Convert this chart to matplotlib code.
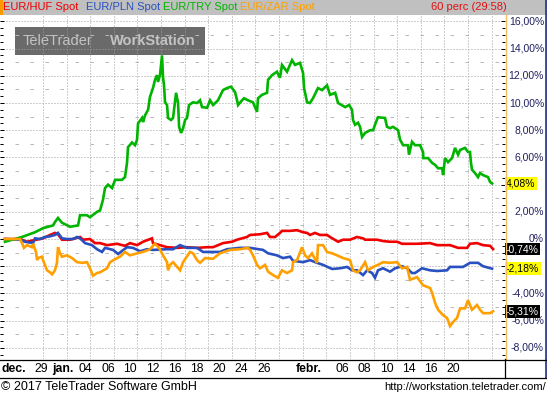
import matplotlib.pyplot as plt
import matplotlib.transforms as mtransforms
from matplotlib.lines import Line2D
from matplotlib.patches import Rectangle
import numpy as np

W, H = 547, 397
plt.rcParams['font.family'] = ['Liberation Sans', 'DejaVu Sans']

# x = trading day index (0 = dec. 27), y = change in %
huf_x = [-1.22, 0.13, 0.75, 1.29, 2.19, 2.82, 3.26, 3.53, 3.89, 4.61, 5.06, 5.51, 5.78, 6.40, 6.85,
         7.30, 7.93, 8.83, 9.54, 9.99, 10.62, 11.16, 11.96, 12.05, 12.68, 13.31, 14.22, 15.10, 16.00,
         16.90, 17.44, 18.33, 19.14, 19.59, 20.48, 20.75, 21.65, 22.28, 22.55, 23.00, 23.44, 23.62,
         24.34, 24.97, 25.51, 25.87, 26.13, 26.58, 27.03, 27.66, 27.93, 28.65, 29.10, 29.72, 30.35,
         30.89, 31.07, 32.14, 32.68, 33.31, 33.94, 34.39, 35.73, 36.90, 37.53, 38.69, 39.41, 40.22,
         40.48, 41.11, 41.65, 42.28, 42.55]
huf_y = [0.0, 0.0, -0.2, -0.1, 0.05, 0.3, 0.45, 0.35, -0.05, -0.05, 0.05, 0.15, -0.05, 0.0, -0.3,
         -0.3, -0.45, -0.35, -0.5, -0.3, -0.45, -0.2, 0.05, -0.3, -0.45, -0.6, -0.65, -0.6, -0.65,
         -0.6, -0.6, -0.3, -0.2, -0.05, 0.15, 0.3, 0.35, 0.45, 0.15, 0.15, 0.45, 0.6, 0.6, 0.65, 0.5,
         0.45, 0.3, 0.45, 0.3, 0.3, 0.15, -0.2, -0.05, -0.05, 0.15, 0.05, -0.05, -0.05, -0.15, -0.2,
         -0.2, -0.35, -0.35, -0.3, -0.45, -0.45, -0.65, -0.65, -0.35, -0.3, -0.45, -0.5, -0.74]

pln_x = [-1.22, 0.13, 0.57, 1.29, 1.47, 1.92, 2.37, 2.82, 3.26, 3.53, 3.89, 4.34, 4.88, 5.24, 5.51,
         5.96, 6.58, 7.03, 7.48, 7.75, 8.47, 8.92, 9.72, 10.26, 10.89, 11.52, 12.05, 13.31, 13.85,
         14.48, 15.10, 16.00, 16.54, 18.06, 18.69, 19.86, 20.75, 21.92, 22.37, 23.17, 23.71, 24.34,
         24.61, 25.51, 26.13, 26.76, 27.30, 28.11, 28.83, 29.46, 29.90, 30.35, 30.89, 31.25, 31.70,
         31.96, 32.23, 32.68, 33.31, 33.76, 34.39, 34.84, 35.28, 35.55, 36.18, 36.90, 37.53, 38.42,
         38.69, 39.86, 40.48, 41.20, 41.65, 42.46]
pln_y = [0.0, -0.05, -0.2, -0.3, 0.05, 0.0, 0.15, 0.2, 0.3, 0.45, 0.05, 0.0, 0.0, 0.15, 0.05, -0.3,
         -0.45, -0.75, -0.95, -0.65, -0.8, -1.1, -0.6, -0.65, -0.9, -0.75, -0.8, -0.75, -0.75, -0.45,
         -0.65, -0.65, -0.95, -0.95, -0.75, -0.65, -0.65, -0.8, -1.05, -1.2, -1.4, -1.3, -1.6, -1.7,
         -1.55, -1.75, -1.9, -2.2, -2.15, -2.05, -2.3, -2.3, -2.65, -2.3, -2.5, -2.85, -2.3, -2.15,
         -2.4, -2.15, -2.0, -2.15, -2.5, -2.5, -2.15, -2.3, -2.35, -2.3, -2.05, -2.05, -1.75, -1.75,
         -2.0, -2.18]

try_x = [-1.22, 0.30, 1.29, 1.47, 2.19, 3.09, 3.26, 3.53, 3.89, 4.61,
         5.33, 5.51, 6.13, 6.40, 7.03, 7.30, 7.57, 7.75, 8.02, 8.38,
         8.65, 9.27, 9.54, 9.72, 9.81, 10.17, 10.44, 10.62, 10.71, 11.07,
         11.16, 11.34, 11.61, 11.78, 12.05, 12.23, 12.41, 12.50, 12.68, 12.86,
         12.95, 13.04, 13.13, 13.31, 13.40, 13.67, 13.85, 14.12, 14.30, 14.39,
         14.57, 14.75, 14.93, 15.10, 15.28, 15.64, 16.00, 16.27, 16.45, 16.90,
         17.17, 17.44, 17.88, 18.33, 18.69, 19.05, 19.41, 19.59, 19.68, 20.04,
         20.22, 20.57, 21.02, 21.38, 21.47, 21.83, 22.28, 22.37, 22.73, 23.17,
         23.44, 23.62, 24.07, 24.52, 24.79, 25.24, 25.51, 25.60, 25.87, 26.13,
         26.40, 26.85, 27.21, 27.66, 27.93, 28.39, 28.65, 29.28, 29.64, 29.90,
         29.99, 30.17, 30.44, 30.62, 30.80, 31.07, 31.52, 31.79, 32.05, 32.23,
         32.86, 33.04, 33.31, 33.58, 34.03, 34.21, 34.48, 34.92, 35.01, 35.28,
         35.55, 36.00, 36.27, 36.30, 36.72, 37.08, 37.35, 37.62, 37.98, 38.07,
         38.24, 38.51, 38.87, 39.14, 39.41, 39.59, 40.04, 40.30, 40.48, 40.57,
         40.66, 40.93, 41.20, 41.38, 41.65, 42.10, 42.28, 42.46]
try_y = [-0.2, 0.15, 0.45, 0.5, 0.8, 1.0, 1.25, 1.55, 1.2, 0.9,
         1.0, 1.75, 1.75, 1.6, 2.0, 2.1, 2.9, 3.75, 4.0, 3.75,
         4.35, 4.35, 4.55, 5.6, 6.75, 7.1, 6.9, 7.3, 8.5, 8.9,
         8.6, 9.1, 9.5, 10.45, 11.1, 11.7, 12.05, 11.55, 12.05, 13.5,
         11.9, 11.3, 10.05, 9.85, 8.9, 8.75, 8.9, 10.75, 10.0, 8.25,
         7.8, 8.15, 8.75, 8.9, 9.85, 10.05, 10.0, 10.2, 9.7, 9.65,
         10.2, 9.85, 10.2, 10.95, 11.1, 11.2, 10.8, 10.2, 9.85, 10.2,
         10.35, 10.2, 10.05, 9.35, 10.35, 10.6, 10.75, 11.7, 12.05, 12.3,
         11.85, 12.8, 12.3, 13.15, 12.8, 12.95, 12.2, 11.1, 10.05, 10.0,
         10.35, 11.1, 10.95, 11.3, 10.6, 10.75, 10.0, 9.7, 9.85, 9.5,
         8.75, 8.4, 8.55, 8.25, 7.5, 7.8, 8.0, 8.0, 8.6, 8.95,
         8.9, 8.25, 8.15, 8.25, 8.0, 7.3, 6.9, 6.9, 6.2, 7.15,
         6.9, 6.9, 6.4, 5.95, 5.95, 5.6, 5.45, 5.2, 5.2, 4.7,
         5.95, 5.65, 5.95, 6.7, 6.2, 6.55, 6.7, 6.4, 6.4, 5.6,
         5.1, 4.85, 4.55, 4.85, 4.7, 4.55, 4.2, 4.08]

zar_x = [-1.22, 0.13, 0.30, 0.48, 0.75, 1.20, 1.29, 1.56, 1.65, 1.74,
         2.10, 2.19, 2.55, 2.82, 3.00, 3.26, 3.44, 3.53, 3.71, 3.89,
         4.34, 4.79, 5.24, 5.69, 6.13, 6.40, 6.67, 7.03, 7.30, 7.93,
         8.20, 8.83, 9.09, 9.54, 9.99, 10.62, 11.16, 11.78, 12.23, 12.59,
         12.95, 13.31, 13.40, 13.58, 13.85, 14.48, 14.75, 15.37, 15.64, 16.00,
         16.27, 16.72, 17.44, 18.06, 18.96, 19.86, 20.57, 20.75, 21.02, 21.38,
         21.65, 22.10, 22.37, 22.82, 23.26, 23.62, 24.07, 24.52, 24.61, 24.97,
         25.42, 25.69, 25.96, 26.31, 26.76, 26.85, 27.30, 27.66, 28.11, 28.56,
         29.10, 29.72, 29.99, 30.35, 30.62, 31.07, 31.34, 31.79, 32.23, 32.68,
         33.31, 33.94, 34.39, 34.84, 35.10, 35.73, 36.27, 36.90, 37.08, 37.35,
         37.62, 38.07, 38.42, 38.69, 38.87, 39.14, 39.32, 39.59, 40.04, 40.30,
         40.66, 41.11, 41.38, 41.65, 42.28, 42.55]
zar_y = [0.0, 0.0, -0.3, -0.65, -0.45, -0.6, -0.35, -0.95, -1.55, -1.4,
         -1.3, -1.55, -2.3, -2.45, -2.6, -2.3, -1.75, -0.6, -1.05, -1.3,
         -1.2, -1.4, -1.7, -1.75, -1.7, -2.15, -2.7, -2.5, -2.45, -2.15,
         -1.7, -1.4, -1.3, -0.95, -1.2, -1.05, -0.95, -0.75, -0.35, -0.65,
         -1.2, -1.7, -2.3, -1.9, -1.7, -2.3, -1.7, -0.95, -1.05, -1.55,
         -1.75, -1.4, -1.45, -1.05, -0.8, -0.75, -0.65, -0.8, -1.2, -1.9,
         -2.15, -1.9, -2.4, -2.65, -2.85, -2.3, -2.5, -2.3, -1.7, -1.55,
         -0.6, -1.2, -1.4, -1.05, -1.75, -0.45, -0.45, -0.95, -1.05, -1.2,
         -1.4, -1.55, -2.3, -2.45, -2.3, -1.7, -2.3, -2.05, -1.9, -1.7,
         -1.75, -1.7, -2.15, -2.05, -3.0, -2.8, -3.4, -3.6, -3.95, -4.7,
         -5.2, -5.6, -5.8, -6.4, -6.2, -5.95, -5.8, -5.1, -5.1, -4.5,
         -5.2, -4.85, -5.2, -5.45, -5.45, -5.31]

names = ['EUR/HUF Spot', 'EUR/PLN Spot', 'EUR/TRY Spot', 'EUR/ZAR Spot']
colors = ['#f00000', '#2850c0', '#00b400', '#ffa000']
badge_bg = ['black', '#ffff00', '#ffff00', 'black']
badge_fg = ['white', 'black', 'black', 'white']

tick_days = [-0.45, 2, 4, 6, 8, 10, 12, 14, 16, 18, 20, 22, 26, 29, 31, 33, 35, 37, 39]
tick_labels = ['dec.', '29', 'jan.', '04', '06', '10', '12', '16', '18', '20', '24', '26',
               'febr.', '06', '08', '10', '14', '16', '20']
months = ['dec.', 'jan.', 'febr.']
y_ticks = [16, 14, 12, 10, 8, 6, 4, 2, 0, -2, -4, -6, -8]


def fx(px):
    return px / W


def fy(py):
    return 1 - py / H


fig = plt.figure(figsize=(W / 100, H / 100), dpi=100)
ax = fig.add_axes([0, fy(359), fx(505), (359 - 15) / H])
ax.set_xlim(-1.67, 43.62)
ax.set_ylim(-8.82, 16.47)
for s in ax.spines.values():
    s.set_visible(False)

# grid
for v in y_ticks:
    ax.axhline(v, color='#a0a0a0', lw=0.72, ls=(0, (1, 2)), zorder=1)
for v in range(-7, 16, 2):
    ax.axhline(v, color='#b8b8b8', lw=0.72, ls=(0, (3.5, 11.5)), zorder=1)
for d in np.arange(2.19, 42.6, 2.117):
    ax.axvline(d, color='#a0a0a0', lw=0.72, ls=(0, (1, 2)), zorder=1)

# series
xs = [huf_x, pln_x, try_x, zar_x]
ys = [huf_y, pln_y, try_y, zar_y]
for x, y, c in zip(xs, ys, colors):
    ax.plot(x, y, color=c, lw=1.9, zorder=3, solid_joinstyle='miter')

# ticks
ax.set_yticks(y_ticks)
ax.set_yticks(np.arange(-8.5, 16.5, 0.5), minor=True)
ax.tick_params(axis='y', which='both', left=True, right=True, direction='in',
               labelleft=False, labelright=False, width=0.72, color='black')
ax.tick_params(axis='y', which='major', length=3)
ax.tick_params(axis='y', which='minor', length=2)
ax.set_xticks(tick_days, tick_labels)
ax.tick_params(axis='x', length=0, pad=3, labelsize=8.8)
for lab in ax.get_xticklabels():
    if lab.get_text() in months:
        lab.set_fontweight('bold')

# right scale labels (those hidden behind a last-value badge are left out)
last_vals = [y[-1] for y in ys]
trans = mtransforms.blended_transform_factory(fig.transFigure, ax.transData)
for v in y_ticks:
    if min(abs(v - lv) for lv in last_vals) < 0.5:
        continue
    txt = '0%' if v == 0 else f'{v:.2f}'.replace('.', ',') + '%'
    ax.text(fx(544), v, txt, transform=trans, ha='right', va='center', fontsize=7.5,
            color='#202060', clip_on=False, zorder=5)

# last value badges
for last, bg, fg in zip(last_vals, badge_bg, badge_fg):
    txt = f'{last:.2f}'.replace('.', ',') + '%'
    ax.text(fx(506), last, txt, transform=trans, ha='left', va='center', fontsize=7.5,
            color=fg, clip_on=False, zorder=6,
            bbox=dict(boxstyle='square,pad=0.12', fc=bg, ec='none'))

# watermark
ax.add_patch(Rectangle((fx(15), fy(55)), fx(190), 28 / H, transform=fig.transFigure,
                       fc='#6a6a6a', ec='none', zorder=0.5))
ax.text(fx(23), fy(41), 'TeleTrader', transform=fig.transFigure, fontsize=10.5,
        color='#c4c4c4', va='center', ha='left', zorder=0.6)
ax.text(fx(110), fy(41), 'WorkStation', transform=fig.transFigure, fontsize=10.5,
        color='#c4c4c4', va='center', ha='left', fontweight='bold', zorder=0.6)

# header bar
fig.add_artist(Rectangle((0, fy(15)), fx(546), 15 / H, transform=fig.transFigure,
                         fc='#c0c0c0', ec='none'))
fig.add_artist(Rectangle((0, fy(15)), fx(3), 15 / H, transform=fig.transFigure,
                         fc='#ff9900', ec='none'))
header_x = [3, 86, 163, 240]
for name, c, hx in zip(names, colors, header_x):
    fig.text(fx(hx), fy(7.5), name, color=c, fontsize=8, va='center', ha='left')
fig.text(fx(431), fy(7.5), '60 perc (29:58)', color='#e01010', fontsize=8, va='center')


# frame lines
def fline(x0, y0, x1, y1, color='black', lw=0.9):
    fig.add_artist(Line2D([fx(x0), fx(x1)], [fy(y0), fy(y1)], color=color, lw=lw,
                          transform=fig.transFigure))


fline(505.5, 15, 505.5, 359, color='#f0c060', lw=1.0)
fline(545.5, 0, 545.5, 378, color='#2030a0', lw=1.2)
fline(0, 359.5, 547, 359.5)
fline(0, 377.5, 547, 377.5)
fline(504.5, 359, 504.5, 378)
fline(546.5, 0, 546.5, 378)

# footer
fig.text(fx(1), fy(387), '\u00a9 2017 TeleTrader Software GmbH', fontsize=9, va='center')
fig.text(fx(546), fy(387), 'http://workstation.teletrader.com/', fontsize=8, va='center',
         ha='right')

fig.savefig('out.png', dpi=100)
